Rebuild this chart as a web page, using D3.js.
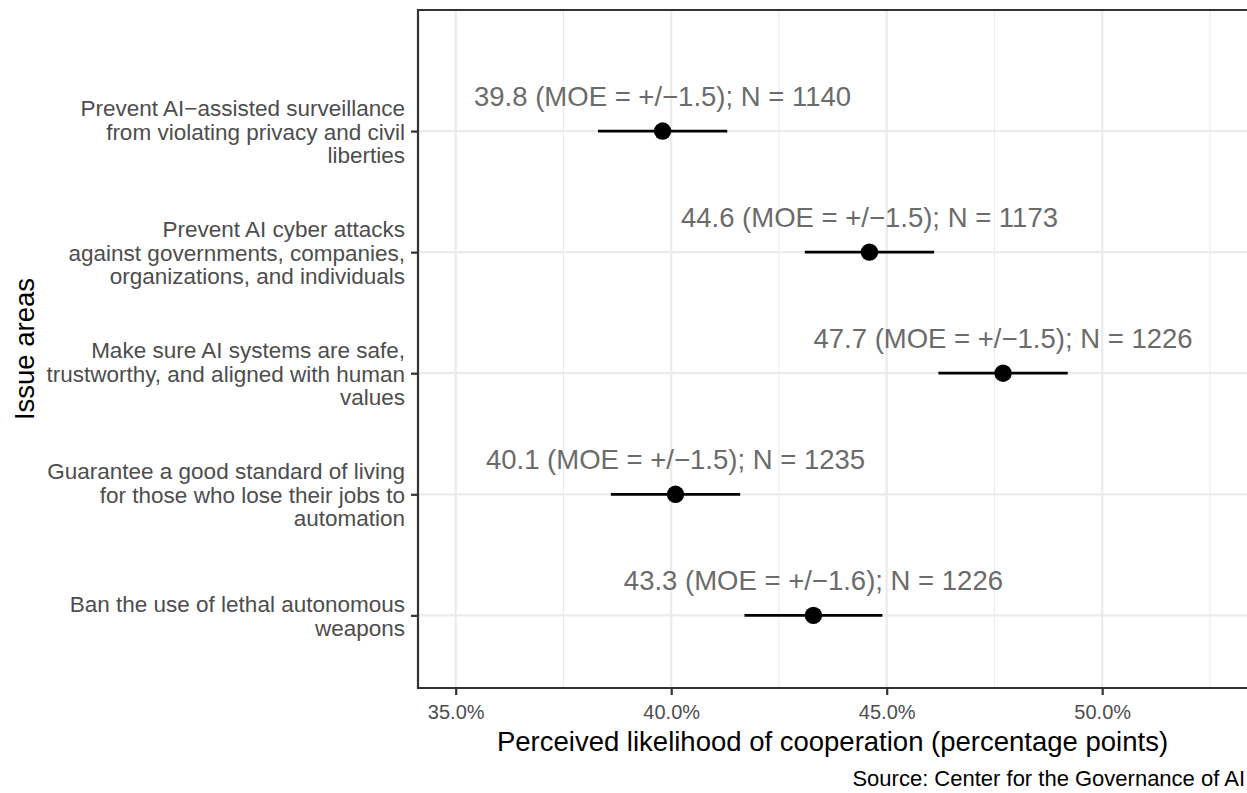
<!DOCTYPE html>
<html>
<head>
<meta charset="utf-8">
<script src="https://cdn.jsdelivr.net/npm/d3@7"></script>
<style>
  html, body { margin: 0; padding: 0; background: #fff; }
  svg { display: block; font-family: "Liberation Sans", Arial, Helvetica, sans-serif; }
</style>
</head>
<body>
<svg id="chart" width="1247" height="793"></svg>
<script>
// Issue areas, top to bottom
const issues = [
  ["Prevent AI\u2212assisted surveillance", "from violating privacy and civil", "liberties"],
  ["Prevent AI cyber attacks", "against governments, companies,", "organizations, and individuals"],
  ["Make sure AI systems are safe,", "trustworthy, and aligned with human", "values"],
  ["Guarantee a good standard of living", "for those who lose their jobs to", "automation"],
  ["Ban the use of lethal autonomous", "weapons"]
];
// Mean perceived likelihood (%), margin of error and sample size
const estimates = [39.8, 44.6, 47.7, 40.1, 43.3];
const moe = [1.5, 1.5, 1.5, 1.5, 1.6];
const sampleN = [1140, 1173, 1226, 1235, 1226];
const majorTicks = [35, 40, 45, 50];
const minorTicks = [37.5, 42.5, 47.5, 52.5];

const svg = d3.select("#chart");
const panel = { left: 418, top: 10, right: 1247, bottom: 688 };

const x = d3.scaleLinear().domain([34.125, 53.36]).range([panel.left, panel.right]);
const y = d3.scaleLinear().domain([-1, 4.6]).range([panel.top, panel.bottom]);
const rows = issues.map((d, i) => i);

const grid = svg.append("g");
grid.selectAll("line.minor").data(minorTicks).join("line")
  .attr("x1", d => x(d)).attr("x2", d => x(d))
  .attr("y1", panel.top).attr("y2", panel.bottom)
  .attr("stroke", "#ebebeb").attr("stroke-width", 1.1);
grid.selectAll("line.major").data(majorTicks).join("line")
  .attr("x1", d => x(d)).attr("x2", d => x(d))
  .attr("y1", panel.top).attr("y2", panel.bottom)
  .attr("stroke", "#ebebeb").attr("stroke-width", 2.2);
grid.selectAll("line.row").data(rows).join("line")
  .attr("x1", panel.left).attr("x2", panel.right)
  .attr("y1", d => y(d)).attr("y2", d => y(d))
  .attr("stroke", "#ebebeb").attr("stroke-width", 2.2);

// Error bars and point estimates
const marks = svg.append("g");
marks.selectAll("line.err").data(rows).join("line")
  .attr("x1", i => x(estimates[i] - moe[i])).attr("x2", i => x(estimates[i] + moe[i]))
  .attr("y1", i => y(i)).attr("y2", i => y(i))
  .attr("stroke", "#000").attr("stroke-width", 2.8);
marks.selectAll("circle").data(rows).join("circle")
  .attr("cx", i => x(estimates[i])).attr("cy", i => y(i)).attr("r", 8.7)
  .attr("fill", "#000");
marks.selectAll("text").data(rows).join("text")
  .attr("x", i => x(estimates[i])).attr("y", i => y(i) - 25)
  .attr("text-anchor", "middle")
  .attr("font-size", 27.5).attr("fill", "#6b6b6b")
  .text(i => `${estimates[i].toFixed(1)} (MOE = +/\u2212${moe[i].toFixed(1)}); N = ${sampleN[i]}`);

// Panel border (left, top, bottom)
svg.append("path")
  .attr("d", `M${panel.right},${panel.top}H${panel.left}V${panel.bottom}H${panel.right}`)
  .attr("fill", "none").attr("stroke", "#333").attr("stroke-width", 2.2);

// X axis
const xAxis = svg.append("g").attr("transform", `translate(0,${panel.bottom})`)
  .call(d3.axisBottom(x).tickValues(majorTicks).tickSize(7)
    .tickFormat(d => d.toFixed(1) + "%"));
xAxis.select(".domain").remove();
xAxis.selectAll(".tick line").attr("stroke", "#333").attr("stroke-width", 2.2);
xAxis.selectAll(".tick text")
  .attr("y", 31).attr("dy", null)
  .attr("font-size", 20).attr("fill", "#4d4d4d")
  .attr("font-family", "Liberation Sans, Arial, sans-serif");

// Y axis with multi-line category labels
const yAxis = svg.append("g").attr("transform", `translate(${panel.left},0)`)
  .call(d3.axisLeft(y).tickValues(rows).tickSize(7).tickFormat(""));
yAxis.select(".domain").remove();
yAxis.selectAll(".tick line").attr("stroke", "#333").attr("stroke-width", 2.2);
yAxis.selectAll(".tick").each(function(i) {
  const lines = issues[i];
  const lh = 23.5;
  const t = d3.select(this).select("text")
    .attr("font-size", 22.5).attr("fill", "#4d4d4d").attr("text-anchor", "end")
    .attr("font-family", "Liberation Sans, Arial, sans-serif")
    .attr("dy", null);
  t.selectAll("tspan").data(lines).join("tspan")
    .attr("x", -13)
    .attr("y", (d, k) => (k - (lines.length - 1) / 2) * lh + 8)
    .text(d => d);
});

// Axis titles and caption
svg.append("text")
  .attr("x", (panel.left + panel.right) / 2).attr("y", 751)
  .attr("text-anchor", "middle").attr("font-size", 27.5).attr("fill", "#000")
  .text("Perceived likelihood of cooperation (percentage points)");
svg.append("text")
  .attr("transform", `translate(34,${(panel.top + panel.bottom) / 2}) rotate(-90)`)
  .attr("text-anchor", "middle").attr("font-size", 27.5).attr("fill", "#000")
  .text("Issue areas");
svg.append("text")
  .attr("x", 1245).attr("y", 786)
  .attr("text-anchor", "end").attr("font-size", 22).attr("fill", "#000")
  .text("Source: Center for the Governance of AI");
</script>
</body>
</html>
